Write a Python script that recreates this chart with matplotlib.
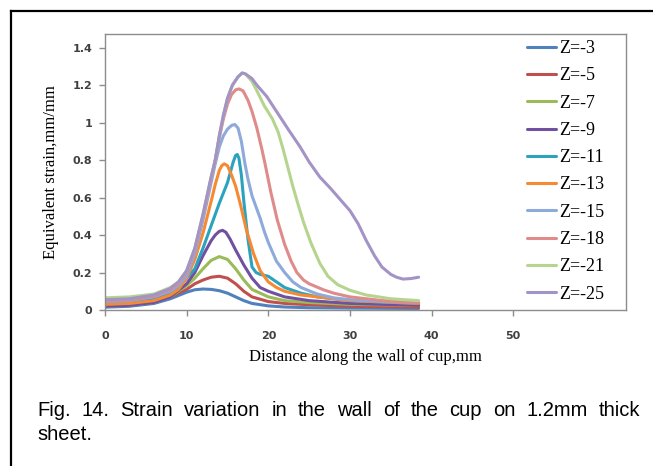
import numpy as np
import matplotlib
matplotlib.use('Agg')
import matplotlib.pyplot as plt
from matplotlib.lines import Line2D

# data (distance along wall in mm, equivalent strain)
labels = ['Z=-3', 'Z=-5', 'Z=-7', 'Z=-9', 'Z=-11', 'Z=-13', 'Z=-15', 'Z=-18', 'Z=-21', 'Z=-25']
colors = ['#4F81BD', '#C0504D', '#9BBB59', '#7050A0', '#2BA3BE', '#F58A33',
          '#8DAADB', '#E08A8A', '#B5D58F', '#A493C6']

x_low = [0, 3, 6, 8, 10, 11, 12, 13, 14, 15, 16, 17, 18, 20, 22, 25, 30, 38.4]
z3 = [0.015, 0.02, 0.035, 0.06, 0.095, 0.108, 0.112, 0.110, 0.103, 0.09, 0.07, 0.05, 0.035, 0.022, 0.016, 0.012, 0.01, 0.008]
z5 = [0.025, 0.03, 0.045, 0.07, 0.11, 0.14, 0.16, 0.175, 0.18, 0.17, 0.14, 0.10, 0.07, 0.045, 0.035, 0.028, 0.02, 0.015]
z7 = [0.02, 0.025, 0.04, 0.07, 0.13, 0.17, 0.22, 0.265, 0.285, 0.27, 0.22, 0.16, 0.11, 0.07, 0.05, 0.04, 0.03, 0.025]

x9 = [0, 3, 6, 8, 10, 11, 12, 13, 13.5, 14, 14.4, 14.8, 15.3, 16, 17, 18, 19, 20, 22, 25, 30, 38.4]
z9 = [0.02, 0.025, 0.04, 0.07, 0.14, 0.2, 0.29, 0.37, 0.40, 0.42, 0.425, 0.415, 0.38, 0.32, 0.24, 0.17, 0.12, 0.1, 0.07, 0.05, 0.035, 0.025]

x11 = [0, 3, 6, 8, 9, 10, 11, 12, 13, 14, 15, 15.7, 16.0, 16.2, 16.4, 16.7, 17, 17.5, 18, 18.5, 19, 20, 21, 22, 24, 26, 30, 38.4]
z11 = [0.04, 0.045, 0.06, 0.09, 0.12, 0.17, 0.22, 0.33, 0.45, 0.57, 0.68, 0.79, 0.825, 0.83, 0.81, 0.72, 0.58, 0.38, 0.23, 0.2, 0.19, 0.18, 0.15, 0.12, 0.09, 0.07, 0.05, 0.035]

x13 = [0, 3, 6, 8, 9, 10, 11, 12, 13, 13.5, 14, 14.3, 14.6, 15, 15.5, 16, 16.6, 17.3, 18.2, 19, 20, 21, 22, 24, 26, 30, 38.4]
z13 = [0.03, 0.035, 0.05, 0.08, 0.11, 0.17, 0.27, 0.41, 0.58, 0.67, 0.745, 0.77, 0.78, 0.77, 0.72, 0.66, 0.56, 0.43, 0.30, 0.21, 0.15, 0.12, 0.1, 0.08, 0.07, 0.05, 0.035]

x15 = [0, 3, 6, 8, 9, 10, 11, 12, 13, 13.5, 14, 14.5, 15, 15.5, 15.9, 16.3, 16.7, 17.1, 17.5, 18, 18.5, 19, 19.5, 20, 20.5, 21, 22, 23, 24, 26, 28, 30, 34, 38.4]
z15 = [0.045, 0.05, 0.07, 0.1, 0.13, 0.18, 0.3, 0.48, 0.68, 0.78, 0.87, 0.93, 0.965, 0.985, 0.99, 0.97, 0.9, 0.79, 0.7, 0.61, 0.55, 0.49, 0.42, 0.36, 0.31, 0.26, 0.2, 0.15, 0.12, 0.085, 0.065, 0.055, 0.045, 0.04]

x18 = [0, 3, 6, 8, 9, 10, 11, 12, 13, 13.5, 14, 14.5, 15, 15.5, 16, 16.4, 16.9, 17.5, 18, 18.6, 19.2, 19.6, 20.3, 21.1, 22, 22.8, 23.5, 24.3, 25, 26.8, 28, 30, 34, 38.4]
z18 = [0.05, 0.055, 0.075, 0.11, 0.14, 0.2, 0.32, 0.5, 0.7, 0.8, 0.92, 1.02, 1.1, 1.15, 1.175, 1.18, 1.17, 1.12, 1.06, 0.97, 0.86, 0.78, 0.63, 0.48, 0.35, 0.26, 0.2, 0.16, 0.14, 0.107, 0.09, 0.07, 0.05, 0.04]

x21 = [0, 3, 6, 8, 9, 10, 11, 12, 13, 13.5, 14, 14.5, 15, 15.6, 16.3, 16.8, 17.2, 18, 18.6, 19.5, 20.5, 21.2, 21.8, 22.4, 23, 23.6, 24.3, 25.2, 26.3, 27.3, 28.5, 30, 32, 35, 38.4]
z21 = [0.065, 0.07, 0.085, 0.12, 0.15, 0.21, 0.33, 0.51, 0.71, 0.8, 0.93, 1.04, 1.13, 1.2, 1.245, 1.265, 1.26, 1.22, 1.17, 1.09, 1.02, 0.95, 0.86, 0.76, 0.66, 0.57, 0.47, 0.36, 0.25, 0.18, 0.135, 0.105, 0.08, 0.06, 0.05]

x25 = [0, 3, 6, 8, 9, 10, 11, 12, 13, 13.5, 14, 14.5, 15, 15.6, 16.3, 16.8, 17.2, 18, 18.6, 19.8, 21, 22.5, 23.9, 25, 26.3, 27.6, 29, 30, 31, 32, 33, 33.9, 35, 35.7, 36.5, 37.5, 38.4]
z25 = [0.055, 0.06, 0.08, 0.115, 0.15, 0.21, 0.33, 0.51, 0.71, 0.8, 0.93, 1.04, 1.13, 1.2, 1.245, 1.265, 1.26, 1.235, 1.2, 1.14, 1.06, 0.96, 0.87, 0.79, 0.71, 0.65, 0.58, 0.53, 0.46, 0.37, 0.29, 0.23, 0.19, 0.175, 0.165, 0.168, 0.175]

series = [(x_low, z3), (x_low, z5), (x_low, z7), (x9, z9), (x11, z11),
          (x13, z13), (x15, z15), (x18, z18), (x21, z21), (x25, z25)]

fig = plt.figure(figsize=(6.53, 4.66), dpi=100, facecolor='white')
ax = fig.add_axes([105/653, 1-310/466, (626-105)/653, (310-34)/466])

for (xs, ys), c, lab in zip(series, colors, labels):
    ax.plot(xs, ys, color=c, lw=2.2, label=lab, solid_capstyle='round', solid_joinstyle='round')

ax.set_xlim(0, 63.8)
ax.set_ylim(0, 1.473)
ax.set_xticks([0, 10, 20, 30, 40, 50])
ax.set_yticks(np.arange(0, 1.41, 0.2))
ax.set_yticklabels(['0', '0.2', '0.4', '0.6', '0.8', '1', '1.2', '1.4'])
for s in ax.spines.values():
    s.set_color('#8c8c8c')
    s.set_linewidth(1.0)
ax.tick_params(colors='#8c8c8c', labelcolor='#404040', labelsize=8, length=4, width=1.0)
for t in ax.get_xticklabels() + ax.get_yticklabels():
    t.set_fontweight('bold')
ax.tick_params(axis='x', pad=11)
ax.tick_params(axis='y', pad=5)

serif = ['Liberation Serif', 'DejaVu Serif']
ax.set_xlabel('Distance along the wall of cup,mm', family=serif, fontsize=12, labelpad=6)
ax.set_ylabel('Equivalent strain,mm/mm', family=serif, fontsize=12, labelpad=10)

ax.legend(loc='upper left', bbox_to_anchor=(527/653, 1-40/466), bbox_transform=fig.transFigure,
          frameon=False, prop={'family': serif, 'size': 13}, handlelength=1.6,
          handletextpad=0.2, labelspacing=0.57, borderpad=0, borderaxespad=0)

# outer frame (left and top only visible)
fig.add_artist(Line2D([11/653, 11/653], [0, 1-11/466], transform=fig.transFigure, color='black', lw=1.6))
fig.add_artist(Line2D([11/653, 1], [1-11/466, 1-11/466], transform=fig.transFigure, color='black', lw=1.6))

# caption, first line justified between x=37 and x=640 px
cap = ['Liberation Sans', 'DejaVu Sans']
words = 'Fig. 14. Strain variation in the wall of the cup on 1.2mm thick'.split()
renderer = fig.canvas.get_renderer()
arts = [fig.text(0, 1-410/466, w, family=cap, fontsize=14.5, va='center', ha='left') for w in words]
widths = [a.get_window_extent(renderer).width for a in arts]
gap = (640 - 37 - sum(widths)) / (len(words) - 1)
xpos = 37
for a, w in zip(arts, widths):
    a.set_x(xpos/653)
    xpos += w + gap
fig.text(37/653, 1-434/466, 'sheet.', family=cap, fontsize=14.5, va='center', ha='left')

fig.savefig('out.png', dpi=100)
